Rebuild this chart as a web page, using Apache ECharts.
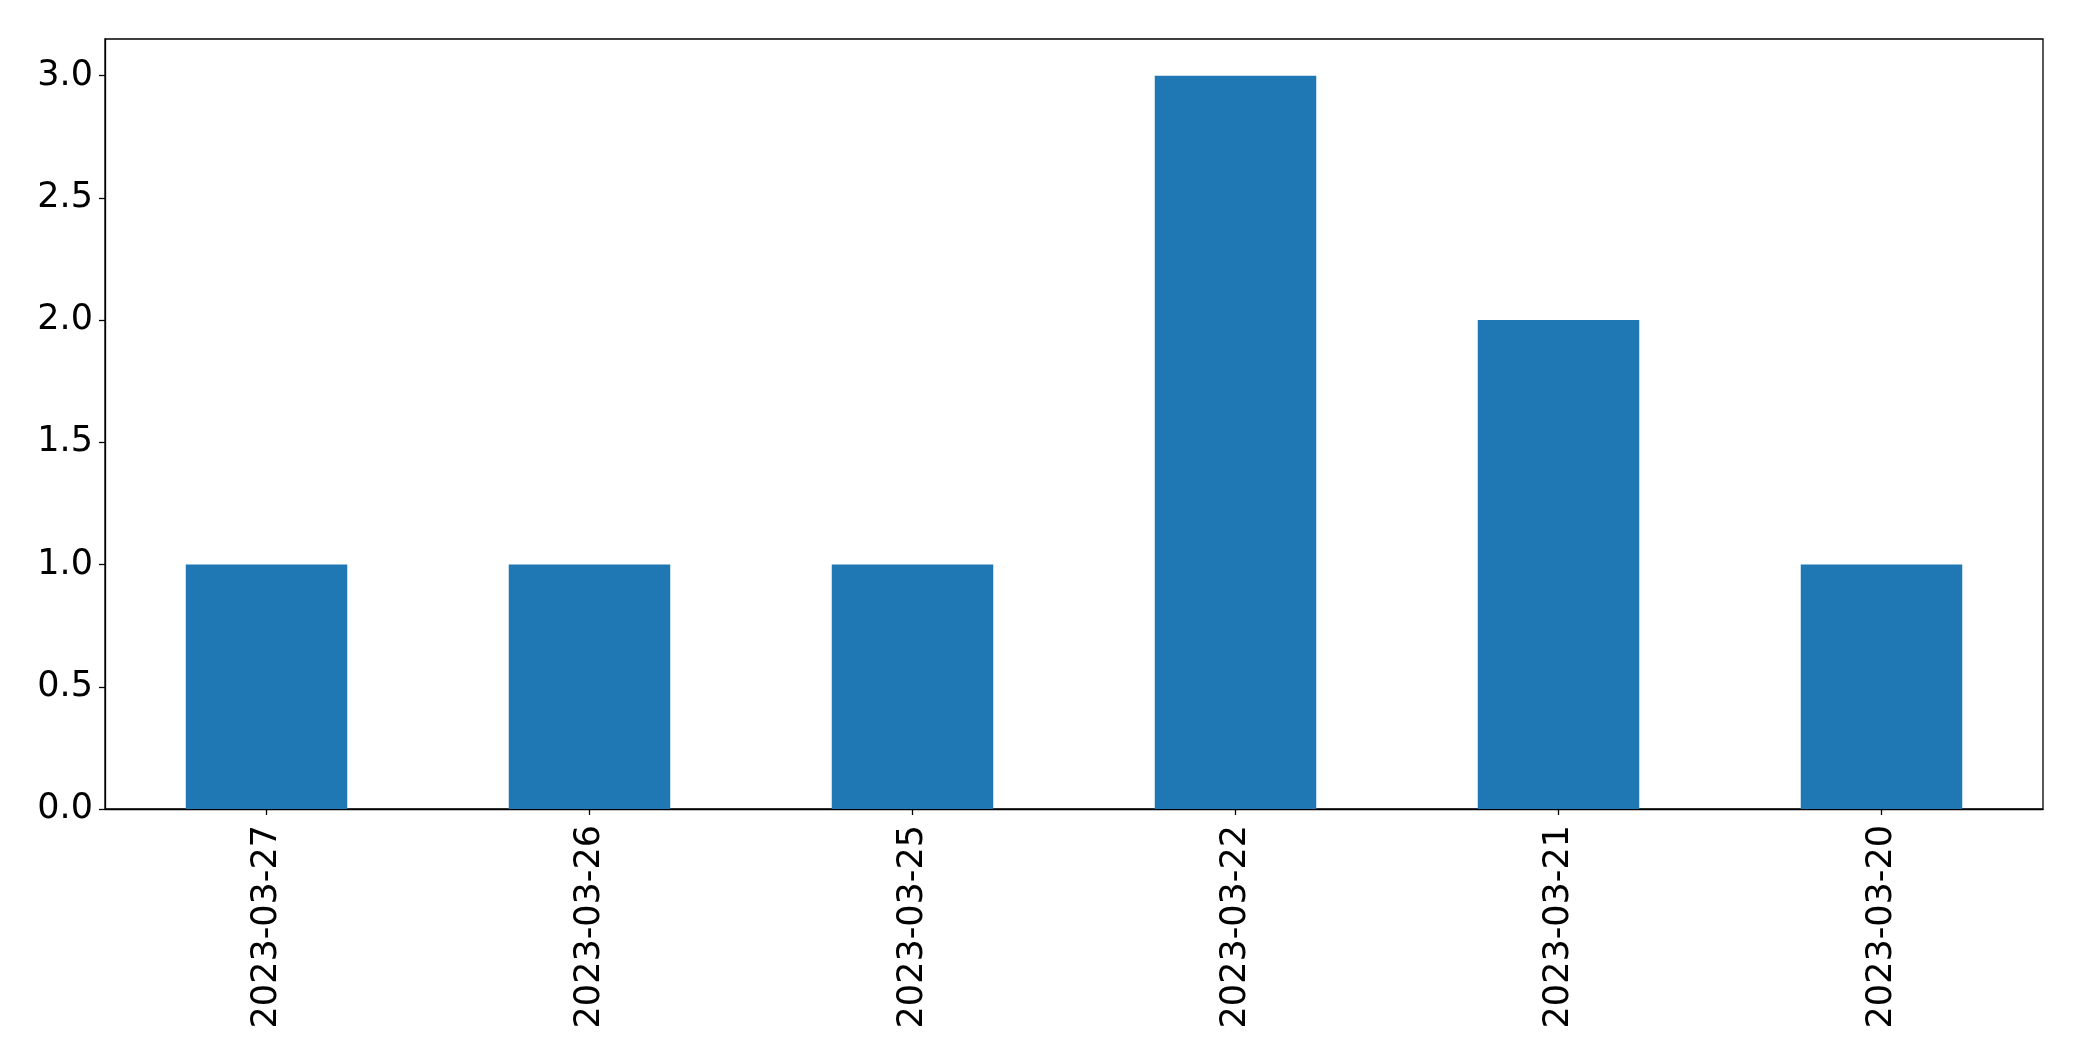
<!DOCTYPE html>
<html>
<head>
<meta charset="utf-8">
<script src="https://cdn.jsdelivr.net/npm/echarts@6/dist/echarts.min.js"></script>
<style>
html,body{margin:0;padding:0;background:#fff;}
#chart{width:2082px;height:1061px;}
</style>
</head>
<body>
<div id="chart"></div>
<script>
const categories = ['2023-03-27','2023-03-26','2023-03-25','2023-03-22','2023-03-21','2023-03-20'];
const values = [1, 1, 1, 3, 2, 1];
const yTicks = [0, 0.5, 1.0, 1.5, 2.0, 2.5, 3.0];
const yMax = 3.15;
const yInterval = 0.5;

const chart = echarts.init(document.getElementById('chart'));
const font = 'DejaVu Sans';
chart.setOption({
  animation: false,
  backgroundColor: '#ffffff',
  grid: {left: 105, right: 39, top: 39, bottom: 252, show: true, borderColor: '#000', borderWidth: 1.3, containLabel: false},
  xAxis: {
    type: 'category',
    data: categories,
    boundaryGap: true,
    axisLine: {show: true, lineStyle: {color: '#000', width: 1.3}},
    axisTick: {show: true, alignWithLabel: true, length: 6, lineStyle: {color: '#000', width: 1.3}},
    axisLabel: {rotate: 90, margin: 16, fontFamily: font, fontSize: 35, color: '#000'},
    splitLine: {show: false}
  },
  yAxis: {
    type: 'value',
    min: 0,
    max: yMax,
    interval: yInterval,
    axisLine: {show: true, lineStyle: {color: '#000', width: 1.3}},
    axisTick: {show: true, length: 6, customValues: yTicks, lineStyle: {color: '#000', width: 1.3}},
    axisLabel: {
      margin: 12, fontFamily: font, fontSize: 35, color: '#000',
      padding: [6, 0, 0, 0],
      customValues: yTicks,
      formatter: function (v) { return v.toFixed(1); }
    },
    splitLine: {show: false}
  },
  series: [{
    type: 'bar',
    data: values,
    barWidth: '50%',
    itemStyle: {color: '#1f77b4'}
  }]
});
</script>
</body>
</html>
